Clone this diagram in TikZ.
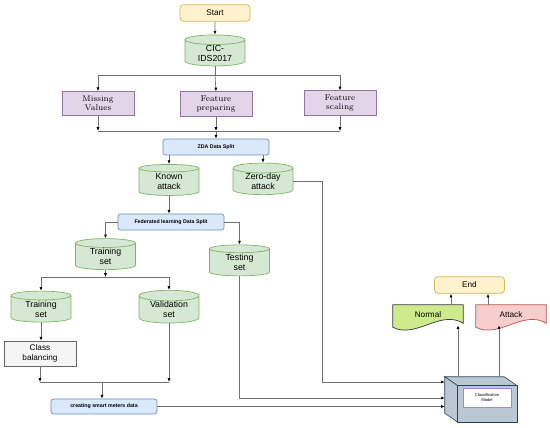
\documentclass[tikz,border=0pt]{standalone}
\usepackage{fontspec}
\setsansfont{Liberation Sans}
\usetikzlibrary{shapes.geometric,calc,backgrounds,arrows.meta}
\definecolor{termfill}{HTML}{FFF2CC}
\definecolor{termdraw}{HTML}{D6B656}
\definecolor{dbfill}{HTML}{D5E8D4}
\definecolor{dbdraw}{HTML}{82B366}
\definecolor{procfill}{HTML}{E1D5E7}
\definecolor{procdraw}{HTML}{9673A6}
\definecolor{splitfill}{HTML}{DAE8FC}
\definecolor{splitdraw}{HTML}{6C8EBF}
\definecolor{balfill}{HTML}{F5F5F5}
\definecolor{baldraw}{HTML}{666666}
\definecolor{normalfill}{HTML}{CDEB8B}
\definecolor{normaldraw}{HTML}{36393D}
\definecolor{attackfill}{HTML}{F8CECC}
\definecolor{attackdraw}{HTML}{B85450}
\definecolor{cubefill}{HTML}{BAC8D3}
\definecolor{cubedraw}{HTML}{23445D}
\definecolor{modeldraw}{HTML}{B07FE0}
\definecolor{linegray}{HTML}{707070}
\tikzstyle{term}=[rectangle, rounded corners=3pt, draw=termdraw, fill=termfill, line width=.6pt, minimum width=2.1cm, minimum height=.5cm, font=\sffamily\fontsize{7}{8}\selectfont]
\tikzstyle{db}=[cylinder, shape border rotate=90, aspect=.28, draw=dbdraw, fill=dbfill, line width=.6pt, minimum width=1.8cm, minimum height=.93cm, inner sep=0pt, align=center, font=\sffamily\fontsize{7.5}{8.5}\selectfont]
\tikzstyle{proc}=[rectangle, draw=procdraw, fill=procfill, line width=.6pt, minimum width=2.16cm, minimum height=.72cm, align=center, font=\rmfamily\fontsize{7}{8}\selectfont]
\tikzstyle{split}=[rectangle, rounded corners=2pt, draw=splitdraw, fill=splitfill, line width=.6pt, minimum width=3.18cm, minimum height=.48cm, inner sep=0pt, font=\sffamily\bfseries\fontsize{4.5}{5}\selectfont]
\tikzstyle{balance}=[rectangle, draw=baldraw, fill=balfill, line width=.6pt, minimum width=2.16cm, minimum height=.75cm, align=center, font=\sffamily\fontsize{7}{8}\selectfont]
\tikzstyle{doc}=[rectangle, minimum width=2.1cm, minimum height=.6cm, inner sep=0pt, font=\sffamily\fontsize{7}{8}\selectfont]
\tikzset{flow/.style={-{Latex[black,length=3.2pt,width=2.6pt]}, line width=.6pt, draw=linegray}}
\tikzset{flowline/.style={line width=.6pt, draw=linegray}}
\tikzset{cubeface/.style={fill=cubefill, draw=cubedraw, line width=.5pt}}
\tikzset{model/.style={rectangle, draw=modeldraw, fill=white, line width=.8pt, minimum width=1.44cm, minimum height=.57cm, inner sep=0pt, align=center, font=\sffamily\fontsize{3.5}{4}\selectfont}}

\begin{document}
\begin{tikzpicture}[x=0.03cm,y=-0.03cm]
  \useasboundingbox (0,0) rectangle (550,428);
  \draw (215,13) node[term] (St) {Start};
  \draw (215,53) node[db] (CIC) {CIC-\\IDS2017};

  \draw (98,103.5) node[proc] (MV) {Missing\\Values};
  \draw (216,104) node[proc] (FP) {Feature\\preparing};
  \draw (340,103) node[proc] (FS) {Feature\\scaling};

  \draw (216,147) node[split] (ZDA) {ZDA Data Split};
  \draw (169,182) node[db] (KA) {Known\\attack};
  \draw (263,181.5) node[db] (ZD) {Zero-day\\attack};

  \draw (171,222) node[split] (FL) {Federated learning Data Split};
  \draw (105.5,256.5) node[db] (TR1) {Training\\set};
  \draw (239.5,262.5) node[db] (TS) {Testing\\set};
  \draw (41,309) node[db] (TR2) {Training\\set};
  \draw (169,309.5) node[db] (VS) {Validation\\set};
  \draw (40,353.5) node[balance] (CB) {Class\\balancing};
  \draw (104,406.5) node[split,minimum height=.45cm] (SM) {creating smart meters data};

  %% classification cube
  \draw (481,399.5) node[minimum width=2.16cm, minimum height=1.35cm, inner sep=0pt] (CUBE) {};
  \filldraw[cubeface] (CUBE.north west) -- ($(CUBE.north east)+(-13,0)$) -- ($(CUBE.north east)+(0,9)$) -- ($(CUBE.north west)+(13,9)$) -- cycle;
  \filldraw[cubeface] (CUBE.north west) -- ($(CUBE.north west)+(13,9)$) -- ($(CUBE.south west)+(13,0)$) -- ($(CUBE.south west)+(0,-9)$) -- cycle;
  \filldraw[cubeface] ($(CUBE.north west)+(13,9)$) rectangle (CUBE.south east);
  \draw (487,397.5) node[model] (CM) {Classification\\Model};

  \draw (428,315) node[doc] (Nrm) {Normal};
  \draw (511,315) node[doc] (Att) {Attack};
  \draw (469.5,285) node[term] (End) {End};
  \begin{scope}[on background layer]
    \filldraw[fill=normalfill, draw=normaldraw, line width=.6pt] (Nrm.north west) -- (Nrm.north east) -- ($(Nrm.south east)+(0,-2)$)
      .. controls ($(Nrm.south east)+(-23,-16)$) and ($(Nrm.south west)+(23,14)$) .. ($(Nrm.south west)+(0,2)$) -- cycle;
    \filldraw[fill=attackfill, draw=attackdraw, line width=.6pt] (Att.north west) -- (Att.north east) -- ($(Att.south east)+(0,-2)$)
      .. controls ($(Att.south east)+(-23,-16)$) and ($(Att.south west)+(23,14)$) .. ($(Att.south west)+(0,2)$) -- cycle;
  \end{scope}

  %% connectors
  \coordinate (j0) at (215,75);
  \draw[flow] (St.south) -- (CIC.north);
  \draw[flowline] (CIC.south) -- (j0);
  \draw[flow] (j0) -| (MV.north);
  \draw[flow] (j0) -| (FS.north);
  \draw[flow] (j0) -- (FP.north);

  \coordinate (j1) at (216,131);
  \draw[flow] (MV.south) -- (MV.south |- j1);
  \draw[flow] (FS.south) -- (FS.south |- j1);
  \draw[flow] (FP.south) -- (j1);
  \draw[flowline] (MV.south |- j1) -- (FS.south |- j1);
  \draw[flow] (j1) -- (ZDA.north);

  \draw[flow] (ZDA.south -| KA.north) -- (KA.north);
  \draw[flow] (ZDA.south -| ZD.north) -- (ZD.north);
  \draw[flow] (KA.south) -- (KA.south |- FL.north);
  \draw[flow] (FL.west) -| (TR1.north);
  \draw[flow] (FL.east) -| (TS.north);

  \coordinate (j2) at (105.5,277);
  \draw[flow] (TR1.south) -- (j2);
  \draw[flow] (j2) -| (TR2.north);
  \draw[flow] (j2) -| (VS.north);
  \draw[flow] (TR2.south) -- (TR2.south |- CB.north);

  \coordinate (j3) at (102,382);
  \draw[flow] (CB.south) -- (CB.south |- j3);
  \draw[flow] (VS.south) -- (VS.south |- j3);
  \draw[flowline] (CB.south |- j3) -- (VS.south |- j3);
  \draw[flow] (j3) -- (j3 |- SM.north);

  \coordinate (zdturn) at (322,382);
  \coordinate (tsturn) at (239.5,398);
  \draw[flow] (ZD.east) -| (zdturn) -- (CUBE.west |- zdturn);
  \draw[flow] (TS.south) -- (tsturn) -- (CUBE.west |- tsturn);
  \draw[flow] (SM.east) -- (CUBE.west |- SM.east);

  \draw[flow] (CUBE.north -| 458,0) -- (Nrm.south -| 458,0);
  \draw[flow] (CUBE.north -| 499,0) -- (Att.south -| 499,0);
  \draw[flow] (Nrm.north -| 451,0) -- (End.south -| 451,0);
  \draw[flow] (Att.north -| 488,0) -- (End.south -| 488,0);
\end{tikzpicture}
\end{document}
